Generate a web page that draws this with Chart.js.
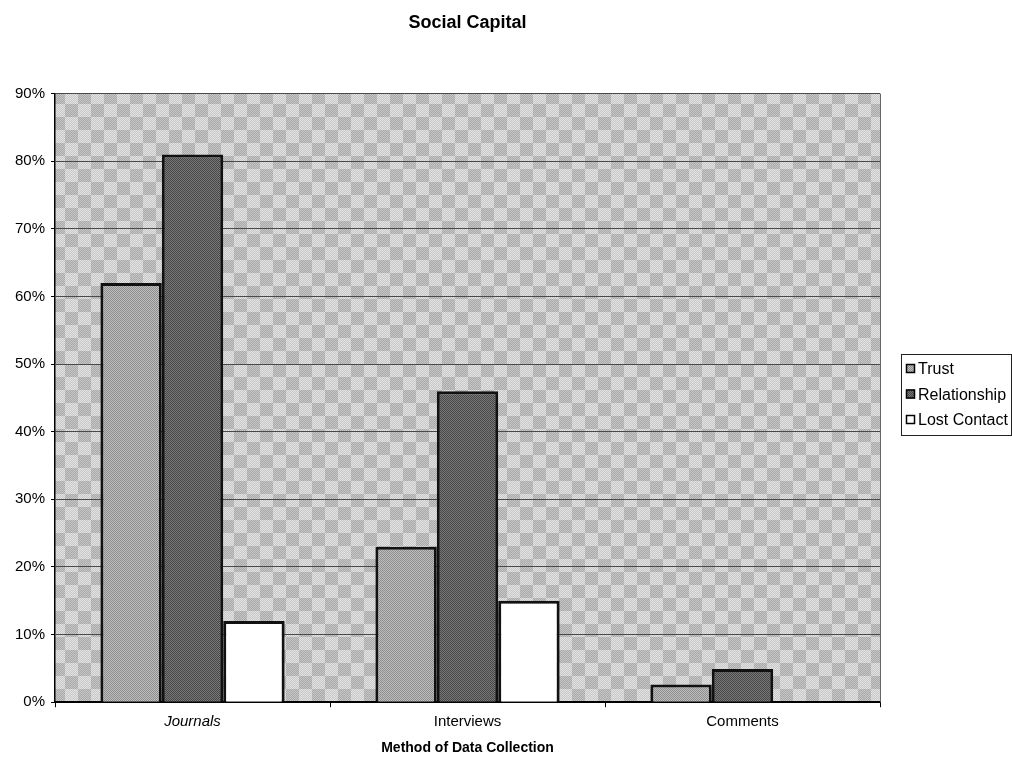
<!DOCTYPE html>
<html>
<head>
<meta charset="utf-8">
<script src="https://cdn.jsdelivr.net/npm/chart.js@4/dist/chart.umd.min.js"></script>
<style>
  html, body { margin: 0; padding: 0; background: #fff; }
  #c { display: block; }
</style>
</head>
<body>
<canvas id="c" width="1012" height="760"></canvas>
<script>
// ---- data ----
const categories = ['Journals', 'Interviews', 'Comments'];
const seriesNames = ['Trust', 'Relationship', 'Lost Contact'];
const trust = [62, 23, 2.6];
const relationship = [81, 46, 4.9];
const lostContact = [12, 15, 0];
const yMin = 0, yMax = 90, yStep = 10;
const chartTitle = 'Social Capital';
const xAxisTitle = 'Method of Data Collection';

// ---- texture helpers ----
function makePattern(w, h, pix) {
  const cv = document.createElement('canvas');
  cv.width = w; cv.height = h;
  const c = cv.getContext('2d');
  const img = c.createImageData(w, h);
  for (let y = 0; y < h; y++) {
    for (let x = 0; x < w; x++) {
      const v = pix(x, y);
      const k = (y * w + x) * 4;
      img.data[k] = v; img.data[k + 1] = v; img.data[k + 2] = v; img.data[k + 3] = 255;
    }
  }
  c.putImageData(img, 0, 0);
  return c.createPattern(cv, 'repeat');
}
const ctx = document.getElementById('c').getContext('2d');
const sq = 13;
const plotBg = makePattern(sq * 2, sq * 2, (x, y) => {
  const light = ((Math.floor(x / sq) + Math.floor(y / sq)) % 2) === 0;
  const d = (x + y) % 2 === 0;
  return light ? (d ? 0xe2 : 0xc8) : (d ? 0xc6 : 0xa9);
});
const trustFill = makePattern(4, 4, (x, y) => ((x + y) % 2 === 0 ? 0x8e : 0xbe));
const relFill = makePattern(4, 4, (x, y) => ((x + y) % 2 === 0 ? 0x48 : 0x78));
const fills = [trustFill, relFill, '#ffffff'];

const FONT = '"Liberation Sans", Arial, sans-serif';

const bgPlugin = {
  id: 'plotBg',
  beforeDraw(chart) {
    const a = chart.chartArea, c = chart.ctx;
    c.save();
    c.fillStyle = plotBg;
    c.fillRect(a.left, a.top, a.right - a.left, a.bottom - a.top);
    c.restore();
  },
  afterDraw(chart) {
    const a = chart.chartArea, c = chart.ctx;
    c.save();
    c.strokeStyle = '#666';
    c.lineWidth = 1;
    c.beginPath();
    c.moveTo(a.right + 0.5, a.top);
    c.lineTo(a.right + 0.5, a.bottom);
    c.stroke();
    // legend
    const bx = 901, by = 354, bw = 110, bh = 81;
    c.strokeStyle = '#222';
    c.lineWidth = 1;
    c.strokeRect(bx + 0.5, by + 0.5, bw, bh);
    c.font = '16px ' + FONT;
    c.textBaseline = 'middle';
    c.textAlign = 'left';
    chart.data.datasets.forEach((ds, i) => {
      const cy = by + 15 + i * 25.5;
      c.fillStyle = ds.backgroundColor;
      c.fillRect(bx + 5, cy - 5, 9, 9);
      c.strokeStyle = '#000';
      c.lineWidth = 1.5;
      c.strokeRect(bx + 5.5, cy - 4.5, 8, 8);
      c.fillStyle = '#000';
      c.fillText(ds.label, bx + 17, cy + 1);
    });
    c.restore();
  }
};

const seriesData = [trust, relationship, lostContact];

new Chart(ctx, {
  type: 'bar',
  data: {
    labels: categories,
    datasets: seriesNames.map((n, i) => ({
      label: n,
      data: seriesData[i],
      backgroundColor: fills[i],
      borderColor: '#111',
      borderWidth: 3,
      barPercentage: 1.0,
      categoryPercentage: 0.67
    }))
  },
  options: {
    responsive: false,
    animation: false,
    layout: { padding: { left: 9, right: 132, top: 0, bottom: 0 } },
    plugins: {
      legend: { display: false },
      tooltip: { enabled: false },
      title: {
        display: true,
        text: chartTitle,
        fullSize: false,
        color: '#000',
        font: { family: FONT, size: 18, weight: 'bold' },
        padding: { top: 12, bottom: 60 }
      }
    },
    scales: {
      x: {
        grid: {
          offset: true,
          drawOnChartArea: false,
          drawTicks: true,
          tickLength: 5,
          color: '#000'
        },
        border: { display: true, color: '#000', width: 2 },
        ticks: {
          color: '#000',
          padding: 6,
          font: (c) => ({ family: FONT, size: 15, style: c.index === 0 ? 'italic' : 'normal' })
        },
        title: {
          display: true,
          text: xAxisTitle,
          color: '#000',
          font: { family: FONT, size: 14, weight: 'bold' },
          padding: { top: 3, bottom: 3 }
        }
      },
      y: {
        min: yMin,
        max: yMax,
        grid: {
          color: '#4a4a4a',
          lineWidth: 1,
          tickLength: 4,
          tickColor: '#000'
        },
        border: { color: '#000', width: 1.5 },
        ticks: {
          stepSize: yStep,
          color: '#000',
          padding: 6,
          font: { family: FONT, size: 15 },
          callback: (v) => v + '%'
        }
      }
    }
  },
  plugins: [bgPlugin]
});
</script>
</body>
</html>
